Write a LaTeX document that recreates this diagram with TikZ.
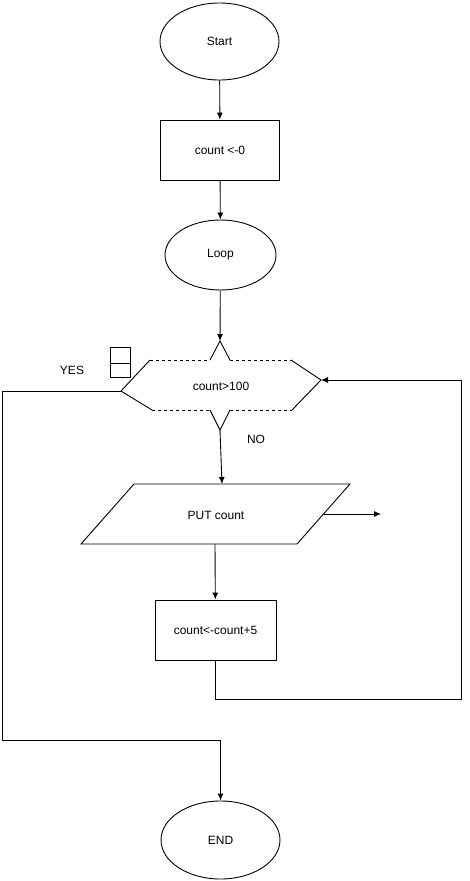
\documentclass[tikz,border=0pt]{standalone}
\usepackage{fontspec}
\setmainfont{Liberation Sans}
\usetikzlibrary{shapes.geometric,arrows.meta}
\tikzset{
  oval/.style={draw, ellipse, inner sep=0pt},
  box/.style={draw, minimum width=119pt, minimum height=60pt, inner sep=0pt},
  arr/.style={-{Latex[length=7pt,width=6pt]}},
}
\begin{document}
\begin{tikzpicture}[x=1pt,y=-1pt,line width=0.9pt,font=\fontsize{12}{14}\selectfont]
\useasboundingbox (0,0) rectangle (469,881);

\node [oval, minimum width=119pt, minimum height=77pt] (start) at (219.5,41.5) {Start};
\node [box] (init) at (220,150) {count <-0};
\node [oval, minimum width=111pt, minimum height=70pt] (loop) at (220.5,255) {Loop};

% decision
\coordinate (ctop) at (220,341);
\coordinate (cbot) at (220,430);
\coordinate (cleft) at (121,391);
\coordinate (cright) at (321,380);
\draw (150,360) -- (cleft) -- (152,410);
\draw (291,360) -- (cright) -- (292,410);
\draw [dashed] (150,360) -- (210,360) (230,360) -- (291,360);
\draw [dashed] (152,410) -- (210,410) (230,410) -- (292,410);
\draw (210,360) -- (ctop) -- (230,360);
\draw (210,410) -- (cbot) -- (230,410);
\node (cond) at (221,386) {count>100};
\draw (110,347) rectangle (130,377) (110,363) -- (130,363);
\node (yes) at (72,370) {YES};
\node (no) at (256,439) {NO};

% output
\coordinate (p1) at (134,484);
\coordinate (p2) at (350,484);
\coordinate (p3) at (297,544);
\coordinate (p4) at (81,544);
\draw (p1) -- (p2) -- (p3) -- (p4) -- cycle;
\node (put) at (216,515) {PUT count};
\coordinate (pout) at (323.5,514);
\coordinate (pend) at (381,514);

\node [box, minimum width=121pt] (incr) at (215.5,630) {count<-count+5};
\node [oval, minimum width=119pt, minimum height=78pt] (stop) at (220.5,840) {END};

\draw [arr] (start) -- (init);
\draw [arr] (init) -- (loop);
\draw [arr] (loop) -- (ctop);
\draw [arr] (cbot) -- (222,484);
\draw [arr] (pout) -- (pend);
\draw [arr] (215,544) -- (incr);
\draw [arr] (incr.south) -- (215.5,699) -- (461,699) -- (461,380) -- (cright);
\draw [arr] (cleft) -- (2,391) -- (2,740) -- (220.5,740) -- (stop);

\end{tikzpicture}
\end{document}
